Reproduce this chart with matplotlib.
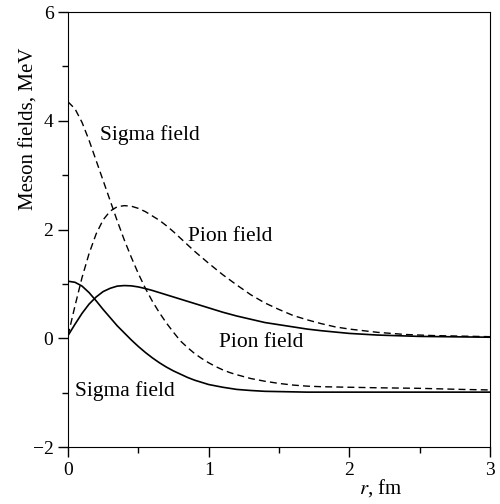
import numpy as np
import matplotlib
matplotlib.use("Agg")
import matplotlib.pyplot as plt

plt.rcParams['font.family'] = ['Liberation Serif', 'DejaVu Serif']
plt.rcParams['mathtext.fontset'] = 'stix'

# dashed curves
r_sigma_d = [0, 0.05, 0.1, 0.15, 0.2, 0.25, 0.3, 0.35, 0.4, 0.45, 0.5, 0.55, 0.6, 0.65, 0.7,
             0.75, 0.8, 0.85, 0.9, 0.95, 1.0, 1.05, 1.1, 1.15, 1.2, 1.3, 1.4, 1.5, 1.6, 1.7,
             1.8, 2.0, 2.2, 2.5, 2.8, 3.0]
sigma_d = [4.35, 4.22, 3.97, 3.64, 3.27, 2.9, 2.53, 2.16, 1.81, 1.49, 1.19, 0.92, 0.68, 0.47, 0.28,
           0.11, -0.05, -0.17, -0.28, -0.37, -0.45, -0.52, -0.58, -0.63, -0.67, -0.74, -0.79, -0.83, -0.86, -0.88,
           -0.89, -0.9, -0.91, -0.92, -0.94, -0.95]

r_pion_d = [0, 0.05, 0.1, 0.15, 0.2, 0.25, 0.3, 0.35, 0.4, 0.45, 0.5, 0.55, 0.6, 0.65, 0.7,
            0.75, 0.8, 0.85, 0.9, 0.95, 1.0, 1.1, 1.2, 1.3, 1.4, 1.5, 1.6, 1.7, 1.8, 1.9,
            2.0, 2.2, 2.4, 2.6, 2.8, 3.0]
pion_d = [0.05, 0.6, 1.12, 1.56, 1.92, 2.18, 2.34, 2.42, 2.44, 2.43, 2.39, 2.33, 2.25, 2.17, 2.07,
          1.96, 1.84, 1.72, 1.6, 1.49, 1.38, 1.17, 0.98, 0.8, 0.65, 0.53, 0.42, 0.34, 0.27, 0.21,
          0.17, 0.11, 0.07, 0.05, 0.04, 0.03]

# solid curves
r_pion_s = [0, 0.05, 0.1, 0.15, 0.2, 0.25, 0.3, 0.35, 0.4, 0.45, 0.5, 0.55, 0.6, 0.7, 0.8,
            0.9, 1.0, 1.1, 1.2, 1.3, 1.4, 1.5, 1.6, 1.7, 1.8, 2.0, 2.2, 2.5, 3.0]
pion_s = [0.05, 0.26, 0.46, 0.63, 0.76, 0.86, 0.92, 0.96, 0.97, 0.965, 0.945, 0.915, 0.88, 0.8, 0.72,
          0.64, 0.56, 0.48, 0.41, 0.35, 0.29, 0.25, 0.21, 0.17, 0.14, 0.09, 0.06, 0.035, 0.02]

r_sigma_s = [0, 0.05, 0.1, 0.15, 0.2, 0.25, 0.3, 0.35, 0.4, 0.45, 0.5, 0.55, 0.6, 0.65, 0.7,
             0.75, 0.8, 0.85, 0.9, 0.95, 1.0, 1.1, 1.2, 1.3, 1.4, 1.5, 1.7, 2.0, 2.5, 3.0]
sigma_s = [1.05, 1.03, 0.96, 0.84, 0.69, 0.53, 0.38, 0.23, 0.1, -0.03, -0.15, -0.26, -0.36, -0.45, -0.53,
           -0.6, -0.66, -0.72, -0.77, -0.81, -0.85, -0.9, -0.94, -0.96, -0.975, -0.98, -0.99, -0.99, -0.99, -0.99]

fig = plt.figure(figsize=(5, 5.04), dpi=100)
ax = fig.add_axes([0.136, 0.113, 0.844, 0.863])

ax.plot(r_sigma_d, sigma_d, 'k--', lw=1, dashes=(5, 3))
ax.plot(r_pion_d, pion_d, 'k--', lw=1, dashes=(5, 3))
ax.plot(r_pion_s, pion_s, 'k-', lw=1.2)
ax.plot(r_sigma_s, sigma_s, 'k-', lw=1.2)

ax.text(0.225, 3.73, 'Sigma field', fontsize=15.5, va='center')
ax.text(0.85, 1.875, 'Pion field', fontsize=15.5, va='center')
ax.text(1.07, -0.07, 'Pion field', fontsize=15.5, va='center')
ax.text(0.05, -0.97, 'Sigma field', fontsize=15.5, va='center')

ax.set_xlim(0, 3)
ax.set_ylim(-2, 6)
ax.set_xticks([0, 1, 2, 3])
ax.set_yticks([-2, 0, 2, 4, 6])
ax.set_yticklabels(['\u22122', '0', '2', '4', '6'])
ax.set_xticks([0.5, 1.5, 2.5], minor=True)
ax.set_yticks([-1, 1, 3, 5], minor=True)
ax.tick_params(which='major', direction='out', length=7, width=1, labelsize=14)
ax.tick_params(which='minor', direction='out', length=4, width=1)

ax.set_ylabel('Meson fields, MeV', fontsize=15)
ax.yaxis.set_label_coords(-0.07, 0.731)
ax.set_xlabel('$r$, fm', fontsize=15)
ax.xaxis.set_label_coords(0.74, -0.07)

plt.savefig('out.png', dpi=100)
